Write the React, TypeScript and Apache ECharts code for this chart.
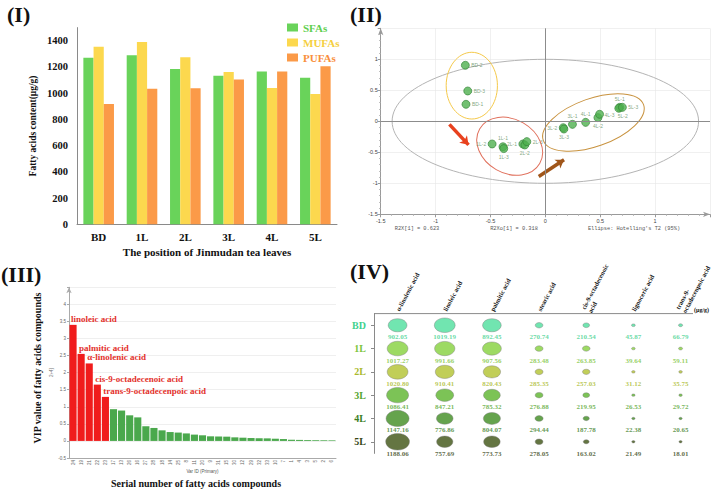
import React, { useEffect, useRef } from 'react';
import * as echarts from 'echarts';

// ---------- Panel I ----------
const positions = ['BD', '1L', '2L', '3L', '4L', '5L'];
const sfas = [1270, 1289, 1184, 1133, 1165, 1118];
const mufas = [1354, 1390, 1273, 1162, 1040, 994];
const pufas = [917, 1033, 1038, 1104, 1165, 1206];

// ---------- Panel II ----------
const pcaNames = ['BD-1', 'BD-2', 'BD-3', '1L-1', '1L-2', '1L-3', '2L-1', '2L-2', '2L-3', '3L-1', '3L-2', '3L-3', '4L-1', '4L-2', '4L-3', '5L-1', '5L-2', '5L-3'];
const pcaT1 = [-0.723, -0.729, -0.707, -0.386, -0.485, -0.379, -0.205, -0.187, -0.169, 0.247, 0.163, 0.169, 0.367, 0.479, 0.494, 0.678, 0.669, 0.702];
const pcaTo1 = [0.274, 0.903, 0.489, -0.41, -0.366, -0.44, -0.366, -0.382, -0.328, -0.049, -0.103, -0.125, -0.017, 0.059, 0.113, 0.225, 0.21, 0.225];
// ellipses: [centerX, centerY, radiusX, radiusY, rotationDeg]
const ellipseHotelling = [0, 0, 1.396, 1.0, 0];
const ellipseBD = [-0.67, 0.575, 0.2335, 0.538, 0];
const ellipseEarly = [-0.325, -0.402, 0.316, 0.435, -30];
const ellipseLate = [0.438, -0.019, 0.485, 0.387, 19.6];
const arrowStarts = [[-0.874, -0.05], [-0.06, -0.89]];
const arrowEnds = [[-0.70, -0.38], [0.17, -0.62]];

// ---------- Panel III ----------
const vipIds = ['24', '19', '21', '22', '23', '17', '13', '26', '16', '27', '28', '18', '14', '25', '8', '11', '20', '9', '31', '15', '30', '12', '29', '32', '33', '10', '7', '1', '4', '3', '5', '2', '6'];
const vipValues = [3.40, 2.55, 2.27, 1.65, 1.29, 0.93, 0.89, 0.75, 0.69, 0.43, 0.38, 0.31, 0.26, 0.245, 0.22, 0.185, 0.165, 0.135, 0.13, 0.125, 0.105, 0.095, 0.085, 0.08, 0.075, 0.065, 0.055, 0.035, 0.03, 0.025, 0.022, 0.02, 0.018];
const vipNames = ['linoleic acid', 'palmitic acid', 'α-linolenic acid', 'cis-9-octadecenoic acid', 'trans-9-octadecenpoic acid'];

// ---------- Panel IV ----------
const acids = ['α-linolenic acid', 'linoleic acid', 'palmitic acid', 'stearic acid', 'cis-9-octadecenoic\nacid', 'lignoceric acid', 'trans-9-\noctadecenpoic acid'];
const contentBD = [902.05, 1019.19, 892.45, 270.74, 210.54, 45.87, 66.79];
const content1L = [1017.27, 991.66, 907.56, 283.48, 263.85, 39.64, 59.11];
const content2L = [1020.80, 910.41, 820.43, 285.35, 257.03, 31.12, 35.75];
const content3L = [1086.41, 847.21, 785.32, 276.88, 219.95, 26.53, 29.72];
const content4L = [1147.16, 776.86, 804.07, 294.44, 187.78, 22.38, 20.65];
const content5L = [1188.06, 757.69, 773.73, 278.05, 163.02, 21.49, 18.01];

const SERIF = "'Liberation Serif', 'DejaVu Serif', serif";
const MONO = "'Liberation Mono', 'DejaVu Sans Mono', monospace";
const SANS = "'Liberation Sans', 'DejaVu Sans', sans-serif";

const rowFill = ['#4ede9c', '#84d13c', '#b1c22e', '#5bb42c', '#3f8c21', '#3d5313'];
const rowText = ['#3fd18e', '#7cc43a', '#a9b92a', '#55a52e', '#3b7e1f', '#364614'];
const ellipseColors = ['#b4b4b4', '#f5c94a', '#e0705c', '#c8923e'];
const arrowColors = ['#e8411e', '#a0561a'];
const labelPos: Record<string, string> = {
  'BD-1': 'right', 'BD-2': 'right', 'BD-3': 'right',
  '1L-1': 'top', '1L-2': 'left', '1L-3': 'bottom',
  '2L-1': 'left', '2L-2': 'bottom', '2L-3': 'right',
  '3L-1': 'top', '3L-2': 'left', '3L-3': 'bottom',
  '4L-1': 'top', '4L-2': 'bottom', '4L-3': 'right',
  '5L-1': 'top', '5L-2': 'bottom', '5L-3': 'right',
};
const labelShift: Record<string, number[]> = {
  '5L-2': [4, -1], '4L-3': [-1, 1],
};

function buildOption() {
  const contents = [contentBD, content1L, content2L, content3L, content4L, content5L];
  const bubbleData: any[] = [];
  contents.forEach((row, r) => {
    row.forEach((v, c) => {
      bubbleData.push({
        value: [c, r, v],
        itemStyle: { color: rowFill[r] },
        label: { color: rowText[r] },
      });
    });
  });

  const pcaData = pcaNames.map((n, i) => ({
    name: n,
    value: [pcaT1[i], pcaTo1[i]],
    label: { position: labelPos[n], offset: labelShift[n] || [0, 0] },
  }));

  const pcaAxisCommon = {
    type: 'value',
    min: -1.5,
    max: 1.5,
    interval: 0.5,
    axisLine: { onZero: false, lineStyle: { color: '#9a9a9a' }, symbol: ['none', 'arrow'], symbolSize: [4, 7] },
    axisTick: { length: 3, lineStyle: { color: '#9a9a9a' } },
    minorTick: { show: true, splitNumber: 5, length: 1.5, lineStyle: { color: '#b0b0b0' } },
    axisLabel: {
      fontSize: 5.5, color: '#444', fontFamily: SANS, margin: 3,
      formatter: (v: number) => (v >= 1.5 ? '' : String(v)),
    },
    splitLine: { show: true, lineStyle: { color: '#e6e6e6', width: 0.6 } },
  };

  return {
    animation: false,
    backgroundColor: '#ffffff',
    legend: {
      data: [
        { name: 'SFAs', textStyle: { color: '#5fcf4f' } },
        { name: 'MUFAs', textStyle: { color: '#f5cf3e' } },
        { name: 'PUFAs', textStyle: { color: '#f98f3c' } },
      ],
      left: 282, top: 17, orient: 'vertical', icon: 'rect',
      itemWidth: 11, itemHeight: 8, itemGap: 4,
      textStyle: { fontFamily: SERIF, fontWeight: 'bold', fontSize: 11 },
    },
    grid: [
      { left: 77, top: 27.6, width: 260, height: 196.7 },
      { left: 380.7, top: 28.3, width: 331, height: 186 },
      { left: 69, top: 287.3, width: 267, height: 170.7 },
      { left: 374, top: 313.6, width: 331.3, height: 139.8 },
    ],
    xAxis: [
      {
        gridIndex: 0, type: 'category', data: positions,
        axisLine: { lineStyle: { color: '#8a8a8a' } }, axisTick: { show: false },
        axisLabel: { fontFamily: SERIF, fontWeight: 'bold', fontSize: 11, color: '#111', margin: 7 },
        name: 'The position of Jinmudan tea leaves', nameLocation: 'middle', nameGap: 22,
        nameTextStyle: { fontFamily: SERIF, fontWeight: 'bold', fontSize: 11, color: '#111' },
      },
      { gridIndex: 1, ...pcaAxisCommon, axisLabel: { ...pcaAxisCommon.axisLabel, margin: 4 } },
      {
        gridIndex: 2, type: 'category', data: vipIds,
        axisLine: { onZero: false, lineStyle: { color: '#aaaaaa' } },
        axisTick: { length: 2, lineStyle: { color: '#aaaaaa' } },
        axisLabel: { rotate: 90, interval: 0, fontSize: 4.5, color: '#666', margin: 2, fontFamily: SANS },
        name: 'Var ID (Primary)', nameLocation: 'middle', nameGap: 10,
        nameTextStyle: { fontSize: 4.5, color: '#555', fontFamily: SANS },
      },
      {
        gridIndex: 3, type: 'category', data: acids, position: 'top',
        axisLine: { show: false }, axisTick: { show: false },
        axisLabel: { rotate: -62, interval: 0, fontFamily: SERIF, fontWeight: 'bold', fontSize: 6.5, color: '#111', margin: 3, lineHeight: 7.5 },
      },
    ],
    yAxis: [
      {
        gridIndex: 0, type: 'value', min: 0, max: 1500, interval: 200,
        axisLine: { show: true, lineStyle: { color: '#8a8a8a' } }, axisTick: { show: false },
        splitLine: { show: false },
        axisLabel: {
          fontFamily: SERIF, fontWeight: 'bold', fontSize: 10.5, color: '#111', margin: 9,
          formatter: (v: number) => (v > 1400 ? '' : String(v)),
        },
        name: 'Fatty acids content(μg/g)', nameLocation: 'middle', nameGap: 39,
        nameTextStyle: { fontFamily: SERIF, fontWeight: 'bold', fontSize: 9.5, color: '#111' },
      },
      { gridIndex: 1, ...pcaAxisCommon },
      {
        gridIndex: 2, type: 'value', min: -0.5, max: 4.5, interval: 0.5,
        axisLine: { show: true, onZero: false, lineStyle: { color: '#aaaaaa' }, symbol: ['none', 'arrow'], symbolSize: [4, 6] },
        axisTick: { show: true, length: 2, lineStyle: { color: '#aaaaaa' } },
        splitLine: { show: true, lineStyle: { color: '#e4e4e4', width: 0.6 } },
        axisLabel: {
          fontSize: 4.5, color: '#666', margin: 3, fontFamily: SANS,
          formatter: (v: number) => (v > 4 ? '' : String(v)),
        },
        name: '2+4]', nameLocation: 'middle', nameGap: 9,
        nameTextStyle: { fontSize: 4.5, color: '#777', fontFamily: SANS },
      },
      {
        gridIndex: 3, type: 'category', data: positions, inverse: true,
        axisLine: { show: true, lineStyle: { color: '#8a8a8a' } },
        axisTick: { show: true, alignWithLabel: true, length: 3, lineStyle: { color: '#8a8a8a' } },
        axisLabel: {
          fontFamily: SERIF, fontWeight: 'bold', fontSize: 10, margin: 8,
          color: (val: string) => rowText[positions.indexOf(val)] || '#333',
        },
      },
    ],
    series: [
      { name: 'SFAs', type: 'bar', xAxisIndex: 0, yAxisIndex: 0, data: sfas, barWidth: 10.2, barGap: '0%', itemStyle: { color: '#69d35a' } },
      { name: 'MUFAs', type: 'bar', xAxisIndex: 0, yAxisIndex: 0, data: mufas, barWidth: 10.2, barGap: '0%', itemStyle: { color: '#fcd84e' } },
      { name: 'PUFAs', type: 'bar', xAxisIndex: 0, yAxisIndex: 0, data: pufas, barWidth: 10.2, barGap: '0%', itemStyle: { color: '#fb9a48' } },
      {
        name: 'ellipses', type: 'custom', xAxisIndex: 1, yAxisIndex: 1, silent: true,
        data: [ellipseHotelling, ellipseBD, ellipseEarly, ellipseLate],
        renderItem: (params: any, api: any) => {
          const c = api.coord([api.value(0), api.value(1)]);
          const s = api.size([api.value(2), api.value(3)]);
          return {
            type: 'ellipse', x: c[0], y: c[1],
            rotation: (api.value(4) * Math.PI) / 180,
            shape: { cx: 0, cy: 0, rx: s[0], ry: s[1] },
            style: { fill: 'none', stroke: ellipseColors[params.dataIndex], lineWidth: 1 },
          };
        },
        z: 1,
      },
      {
        name: 'scores', type: 'scatter', xAxisIndex: 1, yAxisIndex: 1,
        data: pcaData, symbolSize: 8,
        itemStyle: { color: '#4fb04f', borderColor: '#2f7f32', borderWidth: 0.8 },
        label: { show: true, formatter: '{b}', fontSize: 5, color: '#5f8f62', distance: 1.5, fontFamily: SANS },
        markLine: {
          silent: true, symbol: 'none', label: { show: false },
          lineStyle: { color: '#8c8c8c', width: 1, type: 'solid' },
          data: [{ xAxis: 0 }, { yAxis: 0 }],
        },
        z: 3,
      },
      {
        name: 'arrows', type: 'lines', coordinateSystem: 'cartesian2d', xAxisIndex: 1, yAxisIndex: 1,
        symbol: ['none', 'arrow'], symbolSize: 8,
        lineStyle: { width: 3.5, opacity: 1 },
        data: arrowStarts.map((s, i) => ({ coords: [s, arrowEnds[i]], lineStyle: { color: arrowColors[i] } })),
        z: 4,
      },
      {
        name: 'VIP', type: 'bar', xAxisIndex: 2, yAxisIndex: 2, data: vipValues,
        barCategoryGap: '12%',
        itemStyle: { color: (p: any) => (p.dataIndex < vipNames.length ? '#f01c1c' : '#4aa84c') },
        label: {
          show: true, position: [1.5, -6], align: 'left', verticalAlign: 'middle',
          formatter: (p: any) => vipNames[p.dataIndex] || '',
          fontFamily: SERIF, fontWeight: 'bold', fontSize: 9, color: '#e3302b',
        },
      },
      {
        name: 'content', type: 'scatter', xAxisIndex: 3, yAxisIndex: 3, data: bubbleData,
        symbolSize: (val: number[]) => {
          const w = 3 + 0.0175 * val[2];
          return [w, w * 0.7];
        },
        itemStyle: { borderColor: '#777', borderWidth: 0.5 },
        label: {
          show: true, position: 'inside', offset: [0, 12],
          formatter: (p: any) => p.value[2].toFixed(2),
          fontFamily: SERIF, fontWeight: 'bold', fontSize: 7,
        },
      },
    ],
    graphic: [
      { type: 'text', left: 7, top: 3, style: { text: '(I)', font: `bold 22px ${SERIF}`, fill: '#111' } },
      { type: 'text', left: 350, top: 3, style: { text: '(II)', font: `bold 22px ${SERIF}`, fill: '#111' } },
      { type: 'text', left: 1, top: 263, style: { text: '(III)', font: `bold 22px ${SERIF}`, fill: '#111' } },
      { type: 'text', left: 350, top: 260, style: { text: '(IV)', font: `bold 22px ${SERIF}`, fill: '#111' } },
      { type: 'text', x: 196, y: 483, style: { text: 'Serial number of fatty acids compounds', font: `bold 10px ${SERIF}`, fill: '#111', align: 'center', verticalAlign: 'middle' } },
      { type: 'text', x: 37, y: 368, rotation: Math.PI / 2, style: { text: 'VIP value of fatty acids compounds', font: `bold 10px ${SERIF}`, fill: '#111', align: 'center', verticalAlign: 'middle' } },
      { type: 'text', x: 417, y: 228.5, style: { text: 'R2X[1] = 0.623', font: `5.3px ${MONO}`, fill: '#555', align: 'center', verticalAlign: 'middle' } },
      { type: 'text', x: 514, y: 228.5, style: { text: 'R2Xo[1] = 0.318', font: `5.3px ${MONO}`, fill: '#555', align: 'center', verticalAlign: 'middle' } },
      { type: 'text', x: 634, y: 228.5, style: { text: "Ellipse: Hotelling's T2 (95%)", font: `5.3px ${MONO}`, fill: '#555', align: 'center', verticalAlign: 'middle' } },
      { type: 'line', shape: { x1: 374, y1: 313.6, x2: 693, y2: 313.6 }, style: { stroke: '#8a8a8a', lineWidth: 1 } },
      { type: 'text', x: 694, y: 310, style: { text: '(μg/g)', font: `bold 6px ${SERIF}`, fill: '#111', align: 'left', verticalAlign: 'middle' } },
    ],
  };
}

export default function App() {
  const ref = useRef<HTMLDivElement>(null);
  useEffect(() => {
    if (!ref.current) return;
    const chart = echarts.init(ref.current, undefined, { renderer: 'svg' });
    chart.setOption(buildOption() as any);
    return () => chart.dispose();
  }, []);
  return <div ref={ref} style={{ position: 'fixed', left: 0, top: 0, width: 713, height: 489, background: '#fff' }} />;
}
